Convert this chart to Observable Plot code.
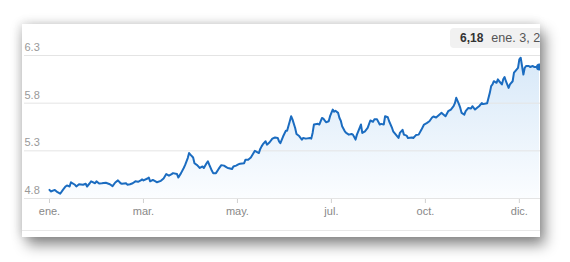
<!DOCTYPE html>
<html><head><meta charset="utf-8">
<script src="https://cdn.jsdelivr.net/npm/d3@7"></script>
<script src="https://cdn.jsdelivr.net/npm/@observablehq/plot@0.6"></script>
<style>
html,body{margin:0;padding:0;background:#fff;width:570px;height:262px;overflow:hidden;font-family:"Liberation Sans",Arial,sans-serif;}
#card{position:absolute;left:22px;top:24px;width:518px;height:213px;background:#fff;overflow:hidden;
  box-shadow:5px 8px 13px rgba(0,0,0,0.45), -3px 0 10px rgba(0,0,0,0.10), 0 -3px 10px rgba(0,0,0,0.06);}
#sep{position:absolute;left:0;right:0;top:206px;height:1px;background:#e8e8e8;}
#tip{position:absolute;left:428px;top:4px;height:20px;width:130px;background:#f1f1f1;border-radius:4px;font-size:12.6px;line-height:20px;padding-left:10px;color:#555;white-space:nowrap;}
#tip b{color:#333;margin-right:8px;font-size:12px;}
svg{position:absolute;left:0;top:0;overflow:visible;}
</style></head>
<body>
<div id="card"><div id="sep"></div></div>
<script>
// [day offset, value]
const prices = [
[0,4.89],[1,4.874],[4,4.89],[6,4.866],[8,4.85],[10,4.89],[12,4.926],[13,4.937],[15,4.926],[16,4.97],
[19,4.944],[20,4.926],[22,4.95],[25,4.944],[27,4.955],[28,4.926],[30,4.96],[31,4.98],[34,4.96],[35,4.98],
[37,4.958],[39,4.96],[42,4.965],[45,4.95],[47,4.93],[49,4.968],[51,4.99],[53,4.96],[54,4.955],[57,4.96],
[58,4.945],[60,4.95],[62,4.96],[64,4.98],[66,4.975],[68,4.99],[69,5.0],[70,4.99],[73,5.01],[74,5.02],
[75,4.98],[77,4.995],[79,4.98],[80,4.97],[83,4.985],[85,5.01],[87,5.056],[89,5.04],[91,5.056],[92,5.066],
[95,5.056],[96,5.02],[98,5.066],[100,5.12],[101,5.15],[103,5.224],[104,5.277],[105,5.26],[107,5.23],[108,5.17],
[110,5.15],[112,5.12],[114,5.136],[115,5.12],[117,5.17],[118,5.19],[119,5.155],[121,5.09],[122,5.066],[124,5.066],
[126,5.11],[128,5.15],[130,5.145],[132,5.126],[133,5.12],[136,5.11],[137,5.136],[139,5.145],[141,5.16],[142,5.165],
[145,5.17],[146,5.207],[148,5.207],[150,5.23],[152,5.277],[153,5.3],[156,5.277],[157,5.32],[158,5.347],[159,5.37],
[161,5.4],[162,5.365],[164,5.39],[166,5.428],[168,5.44],[170,5.435],[171,5.4],[172,5.38],[174,5.45],[176,5.51],
[177,5.51],[179,5.61],[180,5.663],[181,5.63],[183,5.54],[184,5.477],[186,5.455],[188,5.418],[189,5.435],[191,5.428],
[194,5.435],[195,5.428],[196,5.488],[197,5.576],[200,5.583],[201,5.576],[203,5.645],[204,5.638],[206,5.6],[208,5.61],
[209,5.663],[211,5.733],[212,5.71],[213,5.72],[215,5.698],[216,5.645],[217,5.616],[218,5.558],[220,5.505],[221,5.488],
[223,5.47],[225,5.477],[226,5.47],[228,5.418],[229,5.47],[230,5.505],[232,5.576],[233,5.488],[235,5.505],[237,5.54],
[239,5.618],[241,5.605],[242,5.63],[244,5.63],[246,5.576],[247,5.583],[249,5.576],[250,5.663],[252,5.652],[253,5.61],
[255,5.547],[256,5.505],[258,5.47],[260,5.435],[261,5.488],[263,5.52],[264,5.47],[266,5.46],[267,5.435],[270,5.44],
[271,5.435],[273,5.465],[275,5.47],[277,5.52],[279,5.576],[281,5.59],[283,5.61],[285,5.65],[286,5.66],[288,5.65],
[291,5.687],[292,5.698],[293,5.687],[295,5.663],[297,5.716],[299,5.733],[301,5.768],[302,5.8],[303,5.856],[305,5.79],
[306,5.75],[307,5.698],[309,5.68],[310,5.716],[312,5.75],[314,5.745],[315,5.768],[317,5.733],[319,5.757],[320,5.768],
[322,5.8],[323,5.79],[326,5.8],[328,5.908],[329,5.979],[330,5.996],[331,6.03],[333,6.014],[334,6.05],[335,6.03],
[337,5.996],[338,6.05],[339,6.074],[340,6.03],[342,5.96],[343,5.996],[345,6.03],[346,6.12],[347,6.137],[349,6.17],
[350,6.26],[351,6.277],[352,6.19],[353,6.1],[354,6.17],[355,6.19],[357,6.19],[358,6.18],[360,6.19],[361,6.18],
[364,6.18],[365,6.18]
];
const yTicks = [4.8, 5.3, 5.8, 6.3];
const xTickDays = [0, 70, 140, 210, 280, 350];
const xTickLabels = ["ene.", "mar.", "may.", "jul.", "oct.", "dic."];
const tipDate = "ene. 3, 2024";

const data = prices.map(([day, value]) => ({day, value}));
const last = data[data.length - 1];
const blue = "#1b6cc0";

const defs = () => {
  const d = d3.create("svg:defs");
  const g = d.append("linearGradient").attr("id", "areaGrad")
    .attr("x1", 0).attr("x2", 0).attr("y1", 0).attr("y2", 1);
  g.append("stop").attr("offset", "0%").attr("stop-color", "#d7e8f8");
  g.append("stop").attr("offset", "100%").attr("stop-color", "#fbfdff");
  return d.node();
};

const chart = Plot.plot({
  width: 518, height: 213,
  marginLeft: 2, marginRight: 0, marginTop: 31, marginBottom: 39,
  x: {domain: [-18.6, 365.75], ticks: xTickDays, tickFormat: d => xTickLabels[xTickDays.indexOf(d)], tickSize: 5, tickPadding: 4, label: null},
  y: {domain: [4.8, 6.3], axis: null},
  style: {fontFamily: '"Liberation Sans", Arial, sans-serif', fontSize: "11px", background: "transparent", color: "#888"},
  marks: [
    defs,
    Plot.areaY(data, {x: "day", y1: 4.8, y2: "value", fill: "url(#areaGrad)"}),
    Plot.ruleY(yTicks, {stroke: "#e4e4e4", strokeWidth: 1}),
    Plot.text(yTicks, {y: d => d, text: d => d.toFixed(1), frameAnchor: "left", textAnchor: "start", dy: -8, fill: "#999", fontSize: 11}),
    Plot.lineY(data, {x: "day", y: "value", stroke: blue, strokeWidth: 2, strokeLinejoin: "round"}),
    Plot.dot([last], {x: "day", y: "value", r: 3.5, fill: blue})
  ]
});
d3.select(chart).selectAll('[aria-label="x-axis tick"] path, [aria-label="x-axis tick"]').attr("stroke", "#d0d0d0");
d3.select(chart).selectAll('[aria-label="x-axis tick label"]').attr("fill", "#888");
const card = document.getElementById("card");
card.appendChild(chart);
const tip = document.createElement("div");
tip.id = "tip";
tip.innerHTML = "<b>" + last.value.toFixed(2).replace(".", ",") + "</b>" + tipDate;
card.appendChild(tip);
</script>
</body></html>
